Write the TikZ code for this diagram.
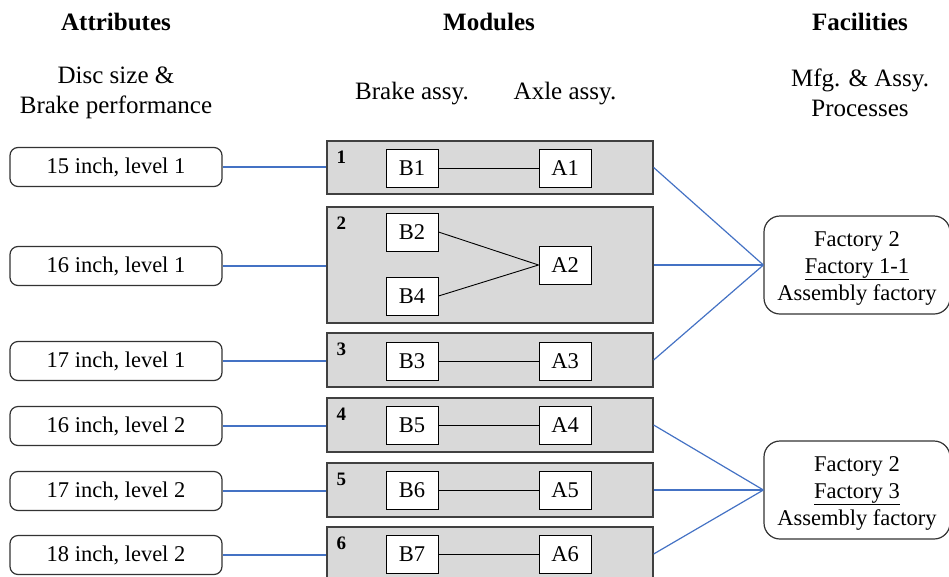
\documentclass[tikz,border=0pt]{standalone}
\usepackage{fontspec}
\setmainfont{Liberation Serif}
\definecolor{linkblue}{HTML}{4472C4}
\definecolor{modfill}{HTML}{D9D9D9}
\begin{document}
\begin{tikzpicture}[x=1pt,y=-1pt,
  txt/.style={font=\fontsize{25}{30}\selectfont, align=center, inner sep=0},
  hdr/.style={font=\fontsize{25}{30}\selectfont\bfseries, inner sep=0},
  attr/.style={draw=black!80, line width=1.2pt, rounded corners=8pt,
    minimum width=212pt, minimum height=39pt, inner sep=0,
    font=\fontsize{22.5}{28}\selectfont},
  module/.style={draw=black!75, fill=modfill, line width=1.3pt,
    minimum width=326pt, inner sep=0},
  part/.style={draw=black, fill=white, line width=1pt, minimum width=52pt,
    minimum height=38pt, inner sep=0, font=\fontsize{22.5}{28}\selectfont},
  modnum/.style={font=\fontsize{19}{19}\selectfont\bfseries, inner sep=0, anchor=north west},
  fac/.style={draw=black!80, line width=1.2pt, rounded corners=16pt,
    minimum width=186pt, minimum height=98pt, inner sep=0},
  factxt/.style={align=center, inner sep=0, font=\fontsize{22.5}{27}\selectfont},
  link/.style={draw=linkblue, line width=1.2pt},
  pair/.style={draw=black, line width=0.9pt}]
\useasboundingbox (0,0) rectangle (949,576);

% column headers
\node[hdr] (h1) at (116,22) {Attributes};
\node[hdr] (h2) at (489,22) {Modules};
\node[hdr] (h3) at (860,22) {Facilities};
\node[txt] (s1) at (116,93) {Disc size \&\\Brake performance};
\node[txt] (s2) at (412,94) {Brake assy.};
\node[txt] (s3) at (565,94) {Axle assy.};
\node[txt] (s4) at (860,93) {Mfg. \& Assy.\\Processes};

% attributes
\node[attr] (a1) at (116,167) {15 inch, level 1};
\node[attr] (a2) at (116,266) {16 inch, level 1};
\node[attr] (a3) at (116,361) {17 inch, level 1};
\node[attr] (a4) at (116,426) {16 inch, level 2};
\node[attr] (a5) at (116,491) {17 inch, level 2};
\node[attr] (a6) at (116,555) {18 inch, level 2};

% modules
\node[module, minimum height=53pt] (m1) at (490,167.5) {};
\node[module, minimum height=116pt] (m2) at (490,265) {};
\node[module, minimum height=54pt] (m3) at (490,360) {};
\node[module, minimum height=54pt] (m4) at (490,425) {};
\node[module, minimum height=54pt] (m5) at (490,490) {};
\node[module, minimum height=54pt] (m6) at (490,554) {};

\foreach \m/\n in {m1/1,m2/2,m3/3,m4/4,m5/5,m6/6}
  \node[modnum] (n\n) at ([xshift=10pt,yshift=-10pt]\m.north west) {\n};

% parts
\node[part] (b1) at (412,168) {B1};
\node[part] (c1) at (565,168) {A1};
\node[part] (b2) at (412,232) {B2};
\node[part] (b4) at (412,296) {B4};
\node[part] (c2) at (565,265) {A2};
\node[part] (b3) at (412,361) {B3};
\node[part] (c3) at (565,361) {A3};
\node[part] (b5) at (412,425) {B5};
\node[part] (c4) at (565,425) {A4};
\node[part] (b6) at (412,490) {B6};
\node[part] (c5) at (565,490) {A5};
\node[part] (b7) at (412,554) {B7};
\node[part] (c6) at (565,554) {A6};

\draw[pair] (b1) -- (c1);
\draw[pair] (b2.east) -- (c2.west);
\draw[pair] (b4.east) -- (c2.west);
\draw[pair] (b3) -- (c3);
\draw[pair] (b5) -- (c4);
\draw[pair] (b6) -- (c5);
\draw[pair] (b7) -- (c6);

% facilities
\node[fac] (f1) at (857,265) {};
\node[fac] (f2) at (857,490) {};
\node[factxt] (t1) at ([yshift=-3pt]f1.center) {Factory 2\\\underline{Factory 1-1}\\Assembly factory};
\node[factxt] (t2) at ([yshift=-3pt]f2.center) {Factory 2\\\underline{Factory 3}\\Assembly factory};

% attribute to module links
\foreach \i in {1,...,6}
  \draw[link] (a\i.east) -- (a\i.east -| m\i.west);

% module to facility links
\foreach \i in {1,2,3}
  \draw[link] (m\i.east) -- (f1.west);
\foreach \i in {4,5,6}
  \draw[link] (m\i.east) -- (f2.west);
\end{tikzpicture}
\end{document}
